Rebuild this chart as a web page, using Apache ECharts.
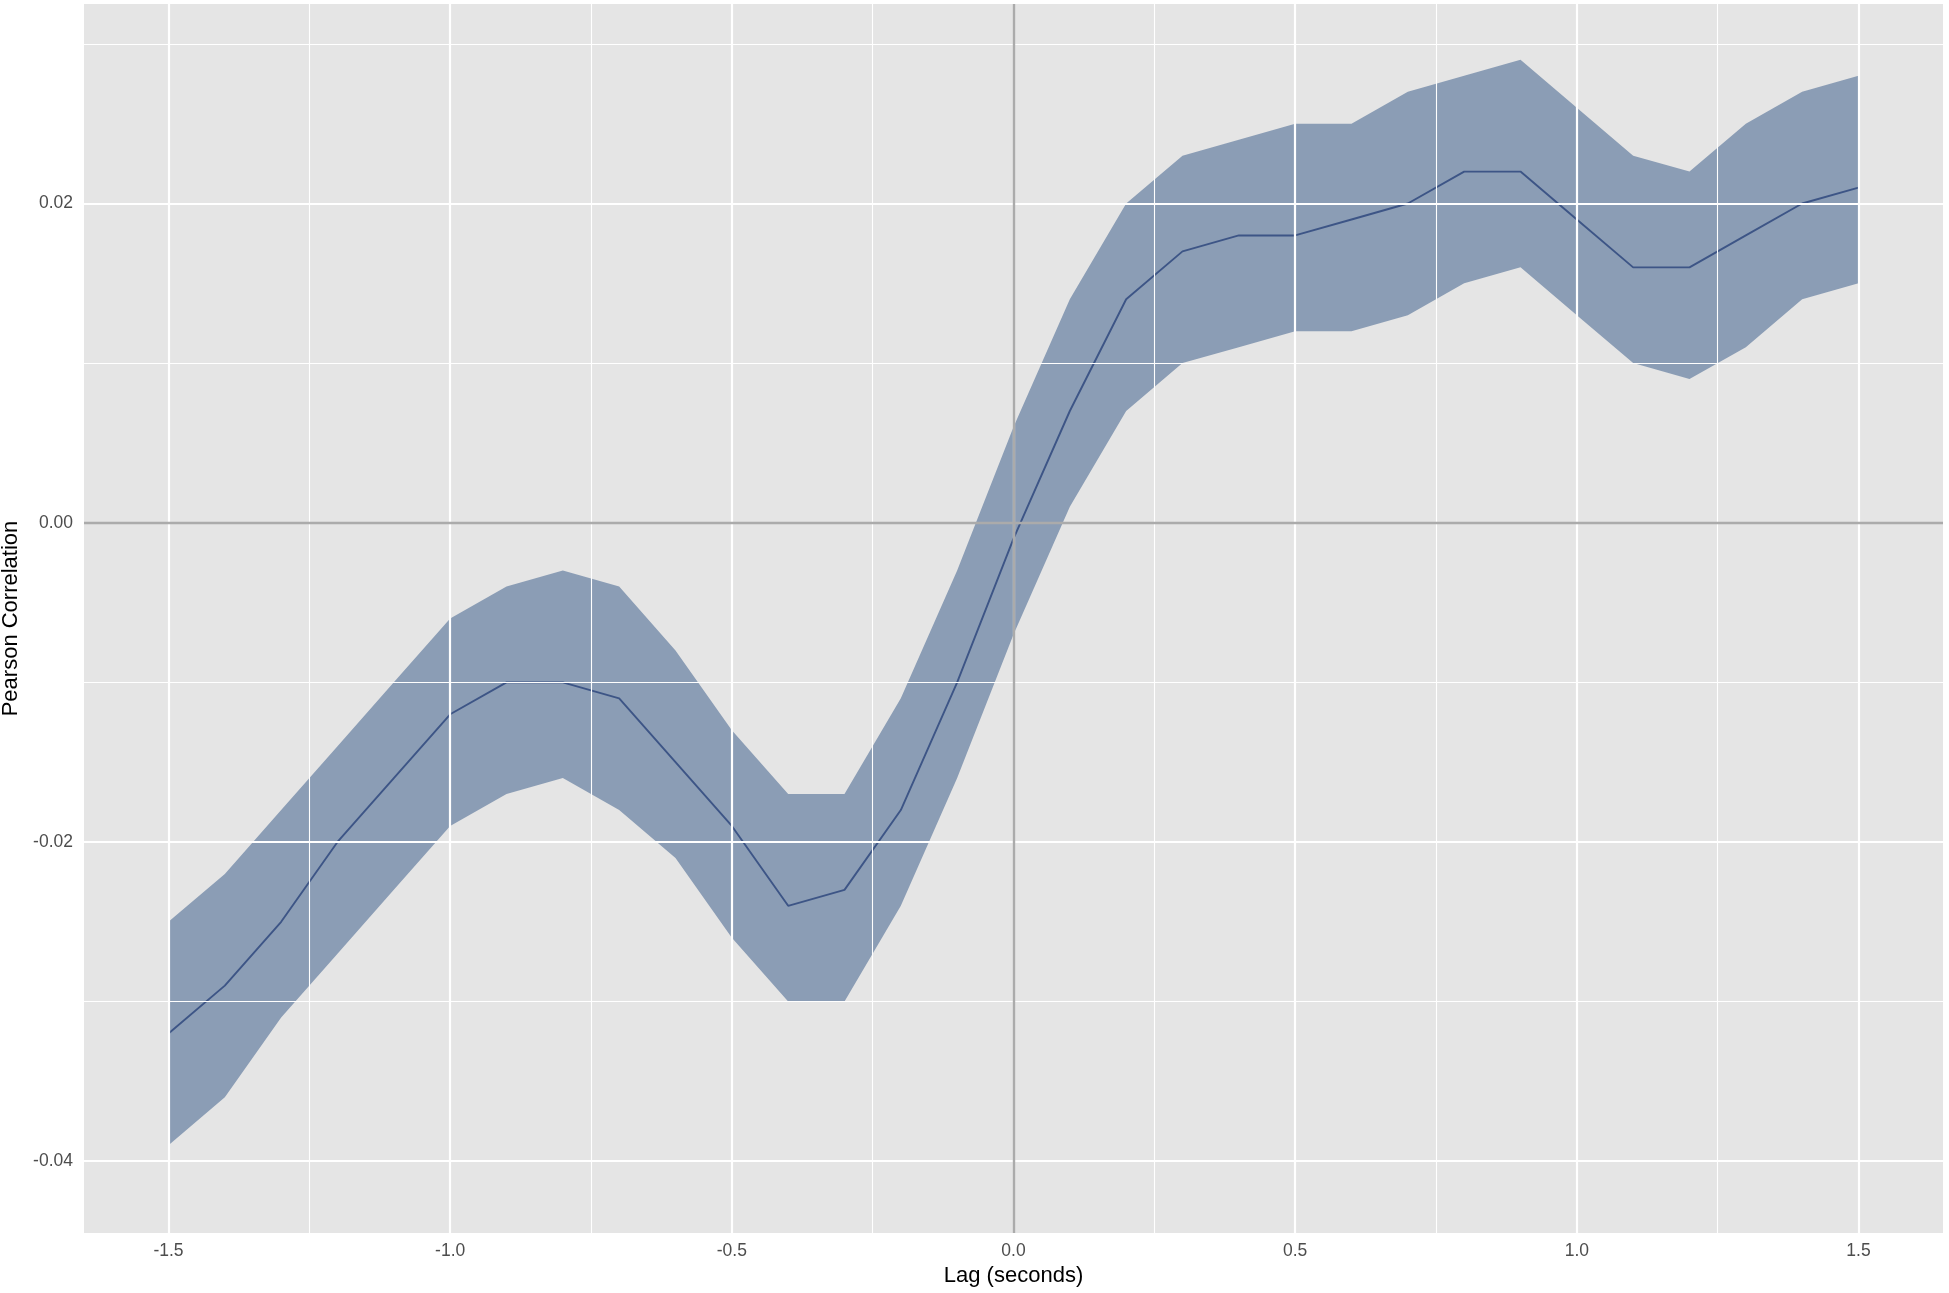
<!DOCTYPE html>
<html>
<head>
<meta charset="utf-8">
<script src="https://cdn.jsdelivr.net/npm/echarts@6/dist/echarts.min.js"></script>
<style>
html,body{margin:0;padding:0;background:#fff;}
#chart{width:1949px;height:1293px;}
</style>
</head>
<body>
<div id="chart"></div>
<script>
const lags = [-1.5,-1.4,-1.3,-1.2,-1.1,-1.0,-0.9,-0.8,-0.7,-0.6,-0.5,-0.4,-0.3,-0.2,-0.1,0.0,0.1,0.2,0.3,0.4,0.5,0.6,0.7,0.8,0.9,1.0,1.1,1.2,1.3,1.4,1.5];
const meanCorr = [-0.032,-0.029,-0.025,-0.020,-0.016,-0.012,-0.010,-0.010,-0.011,-0.015,-0.019,-0.024,-0.023,-0.018,-0.010,-0.001,0.007,0.014,0.017,0.018,0.018,0.019,0.020,0.022,0.022,0.019,0.016,0.016,0.018,0.020,0.021];
const upperCorr = [-0.025,-0.022,-0.018,-0.014,-0.010,-0.006,-0.004,-0.003,-0.004,-0.008,-0.013,-0.017,-0.017,-0.011,-0.003,0.006,0.014,0.020,0.023,0.024,0.025,0.025,0.027,0.028,0.029,0.026,0.023,0.022,0.025,0.027,0.028];
const lowerCorr = [-0.039,-0.036,-0.031,-0.027,-0.023,-0.019,-0.017,-0.016,-0.018,-0.021,-0.026,-0.030,-0.030,-0.024,-0.016,-0.007,0.001,0.007,0.010,0.011,0.012,0.012,0.013,0.015,0.016,0.013,0.010,0.009,0.011,0.014,0.015];

const xTicks = [-1.5,-1.0,-0.5,0.0,0.5,1.0,1.5];
const xTickLabels = ['-1.5','-1.0','-0.5','0.0','0.5','1.0','1.5'];
const xMinorTicks = [-1.25,-0.75,-0.25,0.25,0.75,1.25];
const yTicks = [-0.04,-0.02,0.00,0.02];
const yTickLabels = ['-0.04','-0.02','0.00','0.02'];
const yMinorTicks = [-0.03,-0.01,0.01,0.03];

const FONT = '"Liberation Sans", Arial, sans-serif';

function labelFor(ticks, labels) {
  return function (v) {
    for (let i = 0; i < ticks.length; i++) {
      if (Math.abs(ticks[i] - v) < 1e-9) return labels[i];
    }
    return '';
  };
}

const chart = echarts.init(document.getElementById('chart'), null, {renderer: 'canvas'});

const gridMarkData = []
  .concat(xMinorTicks.map(v => ({xAxis: v, lineStyle: {width: 1.1}})))
  .concat(yMinorTicks.map(v => ({yAxis: v, lineStyle: {width: 1.1}})))
  .concat(xTicks.map(v => ({xAxis: v, lineStyle: {width: 2.2}})))
  .concat(yTicks.map(v => ({yAxis: v, lineStyle: {width: 2.2}})));

const option = {
  animation: false,
  backgroundColor: '#ffffff',
  grid: {
    left: 84, right: 6, top: 4, bottom: 60,
    containLabel: false,
    outerBoundsMode: 'none',
    show: true, backgroundColor: '#e5e5e5', borderWidth: 0
  },
  xAxis: {
    type: 'value',
    min: -1.65, max: 1.65,
    name: 'Lag (seconds)',
    nameLocation: 'middle',
    nameGap: 30,
    nameTextStyle: {color: '#000', fontSize: 22, fontFamily: FONT},
    axisLine: {show: false},
    axisTick: {show: true, customValues: xTicks, length: 5, lineStyle: {color: '#333', width: 1.6}},
    axisLabel: {customValues: xTicks, formatter: labelFor(xTicks, xTickLabels), color: '#4d4d4d', fontSize: 17.5, fontFamily: FONT, margin: 9},
    splitLine: {show: false}
  },
  yAxis: {
    type: 'value',
    min: -0.0445, max: 0.0325,
    name: 'Pearson Correlation',
    nameLocation: 'middle',
    nameRotate: 90,
    nameGap: 58,
    nameTextStyle: {color: '#000', fontSize: 22, fontFamily: FONT},
    axisLine: {show: false},
    axisTick: {show: true, customValues: yTicks, length: 5, lineStyle: {color: '#333', width: 1.6}},
    axisLabel: {customValues: yTicks, formatter: labelFor(yTicks, yTickLabels), color: '#4d4d4d', fontSize: 17.5, fontFamily: FONT, margin: 11},
    splitLine: {show: false}
  },
  series: [
    {
      name: 'grid', type: 'line', data: [], z: 1, silent: true,
      markLine: {
        silent: true, symbol: ['none', 'none'], animation: false,
        label: {show: false},
        lineStyle: {color: '#ffffff', type: 'solid'},
        emphasis: {disabled: true},
        data: gridMarkData
      }
    },
    {
      name: 'ribbon', type: 'custom', z: 2, silent: true,
      data: lags.map((x, i) => [x, lowerCorr[i], upperCorr[i]]),
      encode: {x: 0, y: [1, 2]},
      renderItem: function (params, api) {
        if (params.dataIndex !== 0) return null;
        const pts = [];
        for (let i = 0; i < lags.length; i++) pts.push(api.coord([lags[i], upperCorr[i]]));
        for (let i = lags.length - 1; i >= 0; i--) pts.push(api.coord([lags[i], lowerCorr[i]]));
        return {type: 'polygon', shape: {points: pts}, style: {fill: 'rgba(79,109,149,0.6)'}};
      }
    },
    {
      name: 'zero', type: 'line', data: [], z: 3, silent: true,
      markLine: {
        silent: true, symbol: ['none', 'none'], animation: false,
        label: {show: false},
        lineStyle: {color: '#ababab', width: 2.4, type: 'solid'},
        emphasis: {disabled: true},
        data: [{xAxis: 0}, {yAxis: 0}]
      }
    },
    {
      name: 'mean', type: 'line', z: 4, silent: true,
      data: lags.map((x, i) => [x, meanCorr[i]]),
      showSymbol: false, symbol: 'none',
      lineStyle: {color: '#3d5586', width: 1.9}
    }
  ]
};
chart.setOption(option);
</script>
</body>
</html>
